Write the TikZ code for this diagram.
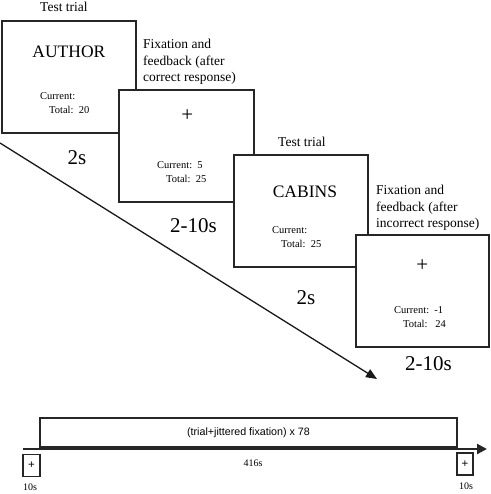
\documentclass[tikz,border=0pt]{standalone}
\usepackage{fontspec}
\setmainfont{Liberation Serif}
\setsansfont{Liberation Sans}
\usetikzlibrary{positioning, arrows.meta}
\newcommand{\tally}[3]{%
  \node[score] (#1-cur) at ([shift={(39,76)}]#1.north west) {Current:\ \ #2};
  \node[score] (#1-tot) at ([shift={(48,90)}]#1.north west) {Total:\ \ #3};
}

\begin{document}
\begin{tikzpicture}[
  x=1pt, y=-1pt,
  screen/.style={draw=black!85, line width=1.8pt, fill=white, minimum width=134pt,
                 minimum height=112pt, anchor=north west, inner sep=0pt},
  word/.style={font=\fontsize{17.5}{20}\selectfont, inner sep=0pt},
  cross/.style={font=\fontsize{21}{24}\selectfont, inner sep=0pt},
  score/.style={font=\fontsize{10.5}{12}\selectfont, anchor=west, inner sep=0pt},
  head/.style={font=\fontsize{13.5}{16.5}\selectfont, align=left, inner sep=0pt},
  dur/.style={font=\fontsize{21}{24}\selectfont, inner sep=0pt},
  small/.style={font=\fontsize{10}{12}\selectfont, inner sep=0pt},
  arr/.style={-{Triangle[length=11pt, width=9pt]}, line width=1.3pt, black!90},
  tline/.style={-{Triangle[length=10pt, width=10pt]}, line width=2.2pt, black!85}
]
\useasboundingbox (0,0) rectangle (490,494);

% the four screens, each one lies over the last
\coordinate (go) at (0,143);
\coordinate (stop) at (377,379);
\draw[arr] (go) -- (stop);

\node[screen] (t1) at (1,20) {};
\node[word] (t1-w) at ([shift={(0,32)}]t1.north) {AUTHOR};
\tally{t1}{}{20}
\node[head, anchor=center] (t1-h) at ([shift={(-5,-13)}]t1.north) {Test trial};
\node[dur] (t1-d) at ([shift={(8,24)}]t1.south) {2s};

\node[screen, minimum width=135pt] (f1) at (118,89) {};
\node[cross] (f1-w) at ([shift={(1,27)}]f1.north) {+};
\tally{f1}{5}{25}
\node[head, anchor=west] (f1-h) at ([shift={(25,-27)}]f1.north west)
  {Fixation and\\feedback (after\\correct response)};
\node[dur] (f1-d) at ([shift={(7,23)}]f1.south) {2-10s};

\node[screen] (t2) at (233,154) {};
\node[word] (t2-w) at ([shift={(4,38)}]t2.north) {CABINS};
\tally{t2}{}{25}
\node[head, anchor=center] (t2-h) at ([shift={(1,-12)}]t2.north) {Test trial};
\node[dur] (t2-d) at ([shift={(5,30)}]t2.south) {2s};

\node[screen, minimum width=133pt] (f2) at (355,234) {};
\node[cross] (f2-w) at ([shift={(0,32)}]f2.north) {+};
\tally{f2}{-1}{\ 24}
\node[head, anchor=west] (f2-h) at ([shift={(21,-26)}]f2.north west)
  {Fixation and\\feedback (after\\incorrect response)};
\node[dur] (f2-d) at ([shift={(6,16)}]f2.south) {2-10s};

% run timeline
\coordinate (tl-a) at (23,449);
\coordinate (tl-b) at (487,449);
\draw[tline] (tl-a) -- (tl-b);
\node[screen, anchor=center, minimum width=417pt, minimum height=29pt,
      font=\sffamily\fontsize{10.7}{12}\selectfont] (rep) at (248.5,432.5)
  {(trial+jittered fixation) x 78};
\node[screen, anchor=center, minimum width=17pt, minimum height=22pt,
      font=\sffamily\fontsize{11.5}{12}\selectfont] (pre) at (31.5,465.5) {+};
\node[screen, anchor=center, minimum width=16pt, minimum height=22pt,
      font=\sffamily\fontsize{11.5}{12}\selectfont] (post) at (465,464) {+};
\node[small] (pre-d) at (30,487) {10s};
\node[small] (post-d) at (466,486) {10s};
\node[small] (run-d) at (253,463) {416s};
\end{tikzpicture}
\end{document}
